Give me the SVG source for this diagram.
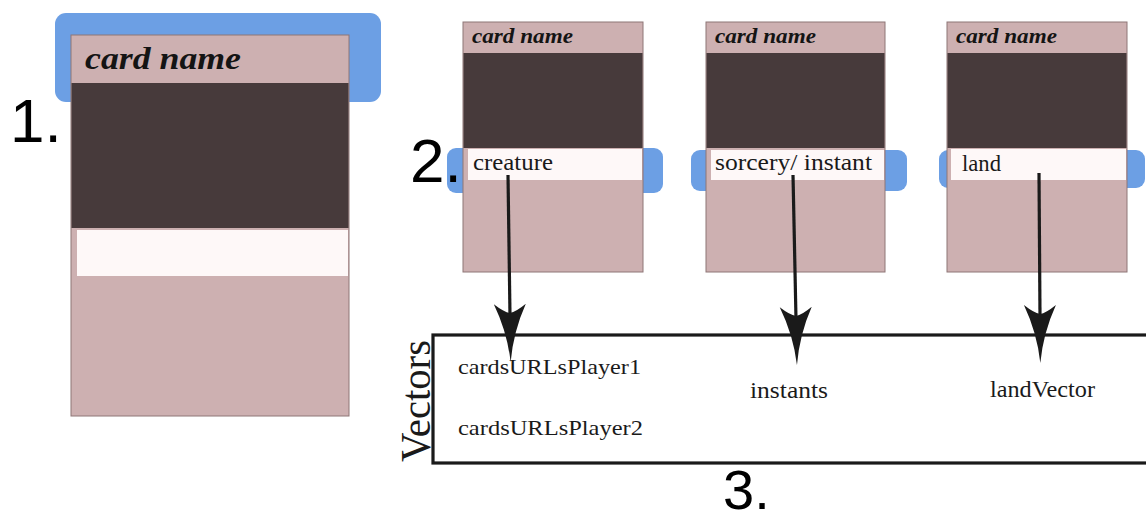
<svg xmlns="http://www.w3.org/2000/svg" width="1146" height="521" viewBox="0 0 1146 521">
  <style>
    .hl { fill: #6c9fe4; }
    .pink { fill: #cdb0b1; stroke: #8e7677; stroke-width: 1; }
    .dark { fill: #473a3b; }
    .strip { fill: #fef8f8; }
    .title { font-family: "Liberation Serif", serif; font-style: italic; font-weight: bold; fill: #141414; }
    .label { font-family: "Liberation Serif", serif; fill: #1a1a1a; }
    .num { font-family: "Liberation Sans", Arial, sans-serif; fill: #000; }
    .wire { stroke: #1a1a1a; stroke-width: 3.2; fill: none; }
  </style>
  <defs>
    <marker id="head" markerUnits="userSpaceOnUse" markerWidth="80" markerHeight="40" refX="0" refY="0" orient="auto" overflow="visible">
      <path d="M46,0 Q16,-3 -12,-16 Q-4,-6 -3,0 Q-4,6 -12,16 Q16,3 46,0 Z" fill="#1a1a1a"/>
    </marker>
  </defs>

  <rect width="1146" height="521" fill="#fff"/>

  <!-- card 1: name field highlighted -->
  <g id="card-large">
    <rect class="hl" x="55" y="13" width="326" height="89" rx="11"/>
    <rect class="pink" x="71" y="35" width="278" height="381"/>
    <rect class="dark" x="71.5" y="83" width="277" height="145"/>
    <rect class="strip" x="77" y="230" width="271" height="46"/>
    <text class="title" x="85" y="69" font-size="31" textLength="156" lengthAdjust="spacingAndGlyphs">card name</text>
  </g>

  <!-- card 2: creature -->
  <g id="card-creature">
    <rect class="hl" x="447" y="148" width="216" height="45" rx="9"/>
    <rect class="pink" x="463" y="22" width="180" height="250"/>
    <rect class="dark" x="463.5" y="53" width="179" height="95"/>
    <rect class="strip" x="468" y="149" width="174" height="31"/>
    <text class="title" x="472" y="43" font-size="21" textLength="101" lengthAdjust="spacingAndGlyphs">card name</text>
    <text class="label" x="473" y="170" font-size="24" textLength="80" lengthAdjust="spacingAndGlyphs">creature</text>
  </g>

  <!-- card 3: sorcery / instant -->
  <g id="card-instant">
    <rect class="hl" x="691" y="150" width="216" height="41" rx="9"/>
    <rect class="pink" x="706" y="22" width="179" height="250"/>
    <rect class="dark" x="706.5" y="53" width="178" height="95"/>
    <rect class="strip" x="711" y="150" width="173" height="30"/>
    <text class="title" x="715" y="43" font-size="21" textLength="101" lengthAdjust="spacingAndGlyphs">card name</text>
    <text class="label" x="715" y="170" font-size="24" textLength="157" lengthAdjust="spacingAndGlyphs">sorcery/ instant</text>
  </g>

  <!-- card 4: land -->
  <g id="card-land">
    <rect class="hl" x="939" y="150" width="206" height="38" rx="9"/>
    <rect class="pink" x="947" y="22" width="180" height="250"/>
    <rect class="dark" x="947.5" y="53" width="179" height="95"/>
    <rect class="strip" x="951" y="149" width="175" height="31"/>
    <text class="title" x="956" y="43" font-size="21" textLength="101" lengthAdjust="spacingAndGlyphs">card name</text>
    <text class="label" x="962" y="171" font-size="24" textLength="39" lengthAdjust="spacingAndGlyphs">land</text>
  </g>

  <!-- vectors container -->
  <g id="vectors">
    <rect x="433" y="335" width="730" height="128" fill="#fff" stroke="#1a1a1a" stroke-width="3.2"/>
    <text class="label" transform="translate(430 462) rotate(-90)" font-size="42" textLength="122" lengthAdjust="spacingAndGlyphs">Vectors</text>
    <text class="label" x="458" y="374" font-size="22" textLength="183" lengthAdjust="spacingAndGlyphs">cardsURLsPlayer1</text>
    <text class="label" x="458" y="435" font-size="22" textLength="185" lengthAdjust="spacingAndGlyphs">cardsURLsPlayer2</text>
    <text class="label" x="750" y="398" font-size="24" textLength="78" lengthAdjust="spacingAndGlyphs">instants</text>
    <text class="label" x="990" y="397" font-size="24" textLength="105" lengthAdjust="spacingAndGlyphs">landVector</text>
  </g>

  <!-- connectors from card type fields to their vectors -->
  <g id="connectors">
    <line class="wire" x1="508" y1="175" x2="510" y2="316" marker-end="url(#head)"/>
    <line class="wire" x1="793" y1="175" x2="796" y2="319" marker-end="url(#head)"/>
    <line class="wire" x1="1039" y1="173" x2="1040" y2="317" marker-end="url(#head)"/>
  </g>

  <!-- step numbers, drawn last so they sit over the highlights -->
  <g id="steps">
    <text class="num" x="10" y="142" font-size="62">1.</text>
    <text class="num" x="410" y="182" font-size="62">2.</text>
    <text class="num" x="723" y="509" font-size="56">3.</text>
  </g>
</svg>
